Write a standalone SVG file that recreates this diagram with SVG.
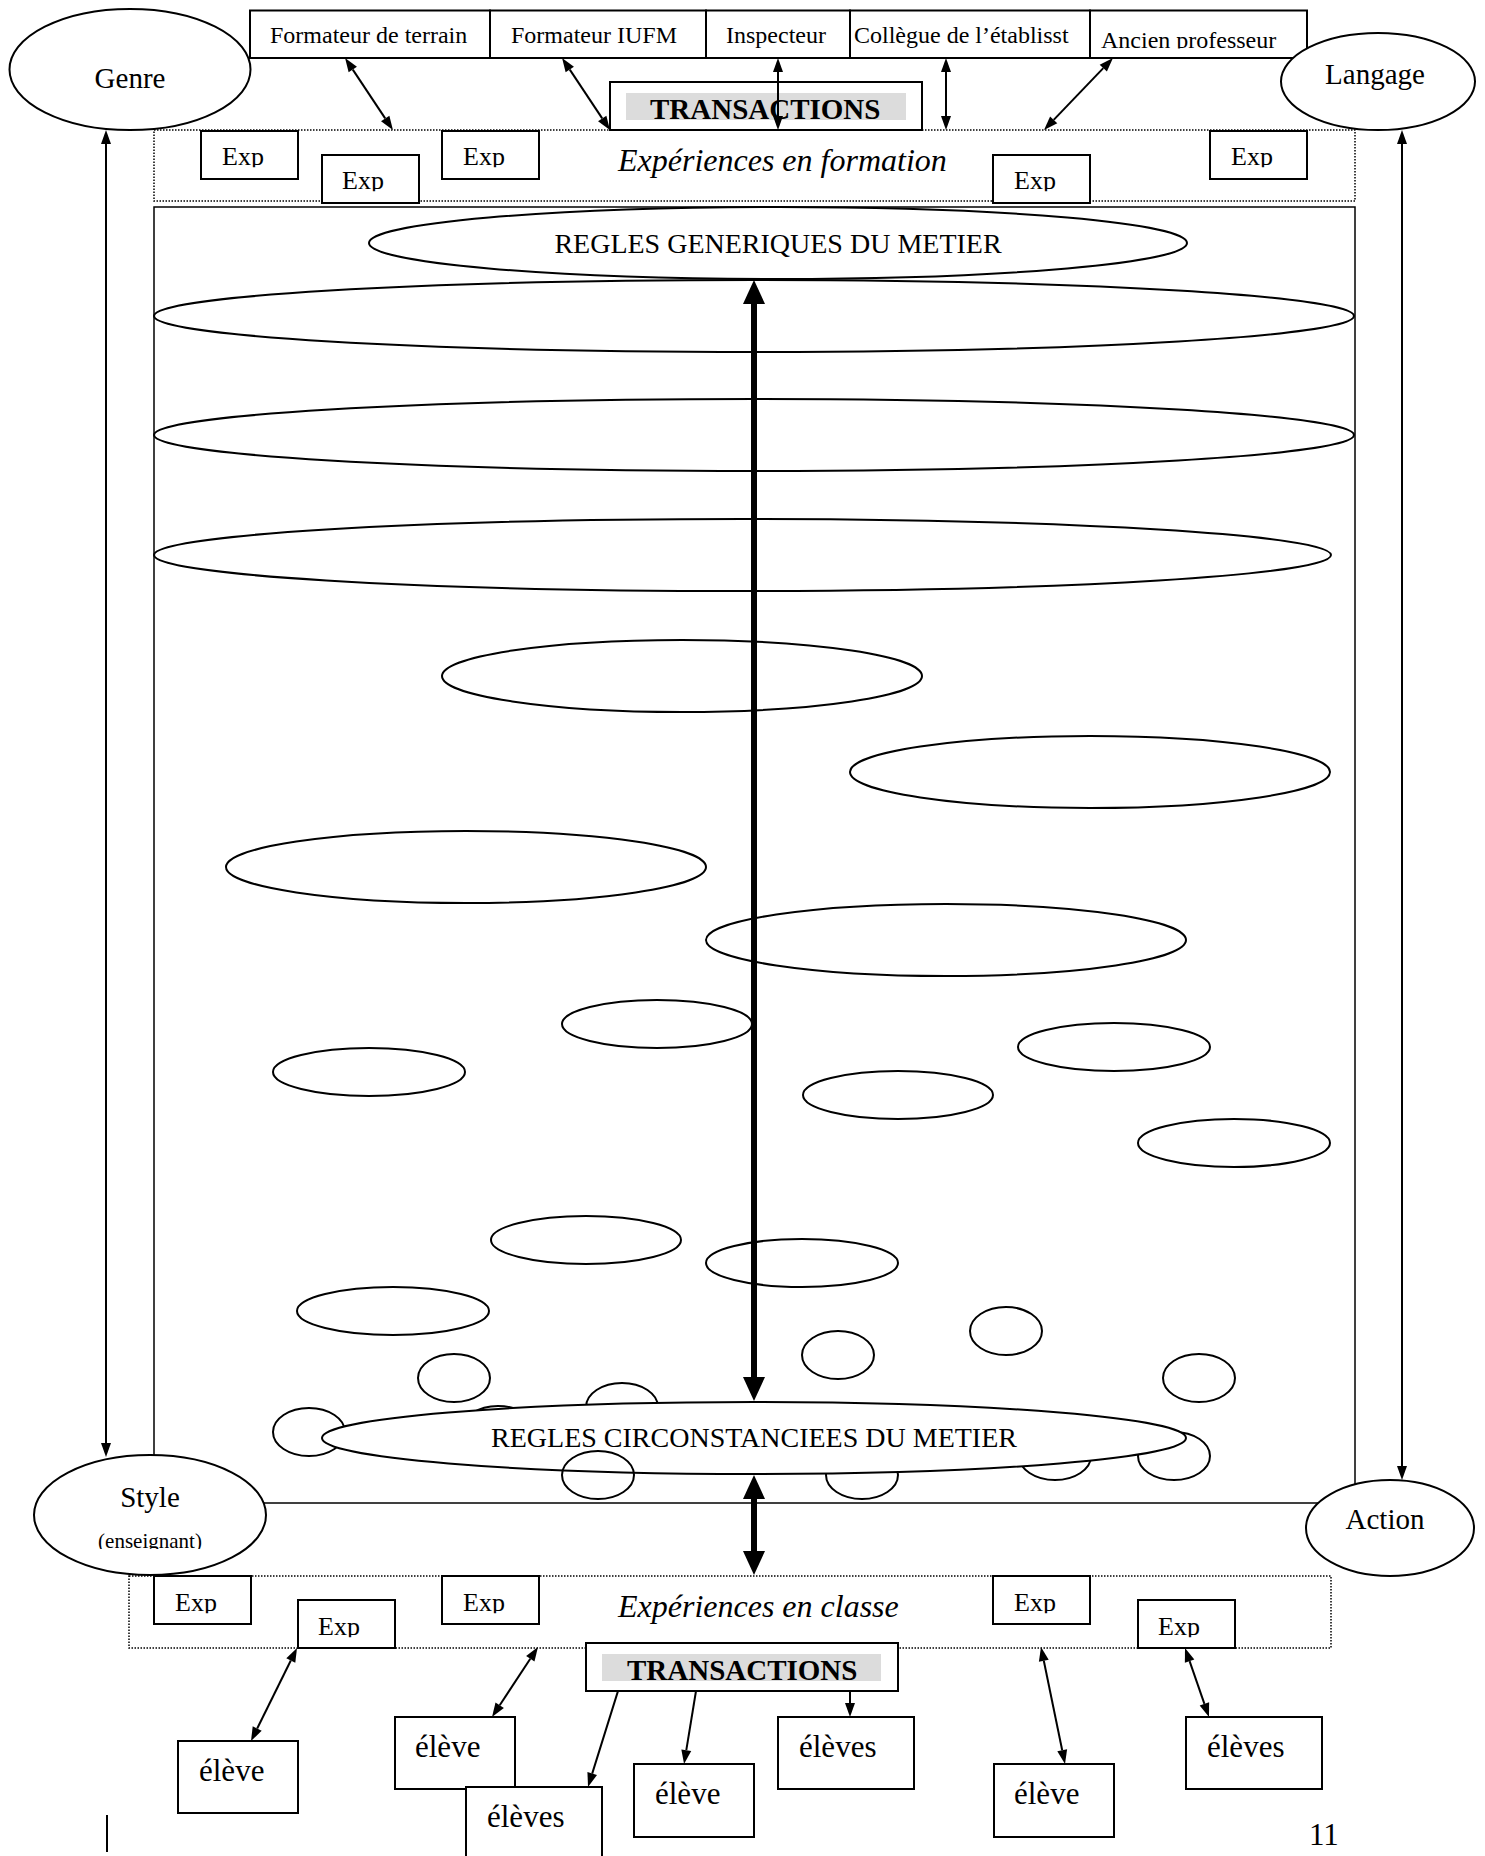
<svg xmlns="http://www.w3.org/2000/svg" width="1485" height="1856" viewBox="0 0 1485 1856">
<style>
.t{font-family:"Liberation Serif","Times New Roman",serif;fill:#000}
.bx{fill:#fff;stroke:#000;stroke-width:2}
.el{fill:#fff;stroke:#000;stroke-width:2}
.dot{fill:none;stroke:#000;stroke-width:1.5;stroke-dasharray:1.5 1.5}
.ln{stroke:#000;stroke-width:2;fill:none}
.thick{stroke:#000;stroke-width:6;fill:none}
.gray{fill:#dcdcdc}
.top{font-size:24px}
.exp{font-size:26px}
.el5{font-size:31px}
.it{font-size:32px;font-style:italic}
.tr{font-size:29px;font-weight:bold}
.rg{font-size:28px}
</style>
<defs>
<marker id="ah" markerUnits="userSpaceOnUse" markerWidth="14" markerHeight="10" refX="0" refY="5" orient="auto-start-reverse" overflow="visible">
<path d="M0,0 L14,5 L0,10 z" fill="#000"/>
</marker>
<marker id="ahT" markerUnits="userSpaceOnUse" markerWidth="24" markerHeight="22" refX="0" refY="11" orient="auto-start-reverse" overflow="visible">
<path d="M0,0 L24,11 L0,22 z" fill="#000"/>
</marker>
<clipPath id="cut" clipPathUnits="objectBoundingBox"><rect x="-0.1" y="0" width="1.2" height="0.87"/></clipPath>
<clipPath id="cut2" clipPathUnits="objectBoundingBox"><rect x="-0.1" y="0" width="1.2" height="0.83"/></clipPath>
</defs>
<rect width="1485" height="1856" fill="#fff"/>

<g id="frame"><rect x="154" y="207" width="1201" height="1296" fill="none" stroke="#000" stroke-width="1.5"/></g>

<g id="experiences-formation">
<rect class="dot" x="154" y="130" width="1201" height="71"/>
<text class="t it" x="618" y="171">Expériences en formation</text>
</g>
<g id="exp-f1"><rect class="bx" x="201" y="131" width="97" height="48"/><text class="t exp" x="222" y="165" clip-path="url(#cut)">Exp</text></g>
<g id="exp-f2"><rect class="bx" x="322" y="155" width="97" height="48"/><text class="t exp" x="342" y="189" clip-path="url(#cut)">Exp</text></g>
<g id="exp-f3"><rect class="bx" x="442" y="131" width="97" height="48"/><text class="t exp" x="463" y="165" clip-path="url(#cut)">Exp</text></g>
<g id="exp-f4"><rect class="bx" x="993" y="155" width="97" height="48"/><text class="t exp" x="1014" y="189" clip-path="url(#cut)">Exp</text></g>
<g id="exp-f5"><rect class="bx" x="1210" y="131" width="97" height="48"/><text class="t exp" x="1231" y="165" clip-path="url(#cut)">Exp</text></g>

<g id="formateur-terrain"><rect class="bx" x="250" y="10.5" width="240" height="47.5"/><text class="t top" x="270" y="43">Formateur de terrain</text></g>
<g id="formateur-iufm"><rect class="bx" x="490" y="10.5" width="216" height="47.5"/><text class="t top" x="511" y="43">Formateur IUFM</text></g>
<g id="inspecteur"><rect class="bx" x="706" y="10.5" width="144" height="47.5"/><text class="t top" x="726" y="43">Inspecteur</text></g>
<g id="collegue"><rect class="bx" x="850" y="10.5" width="240" height="47.5"/><text class="t top" x="854" y="43">Collègue de l’établisst</text></g>
<g id="ancien-professeur"><rect class="bx" x="1090" y="10.5" width="217" height="47.5"/><text class="t top" x="1101" y="48" clip-path="url(#cut2)">Ancien professeur</text></g>

<g id="transactions-top"><rect class="bx" x="610" y="82" width="312" height="48"/><rect class="gray" x="626" y="93" width="280" height="27"/><text class="t tr" x="650" y="119">TRANSACTIONS</text></g>

<g id="genre"><ellipse class="el" cx="130" cy="69.5" rx="120.5" ry="60.5"/><text class="t" font-size="29" x="130" y="88" text-anchor="middle">Genre</text></g>
<g id="langage"><ellipse class="el" cx="1378" cy="81.5" rx="97" ry="48.5"/><text class="t" font-size="29" x="1375" y="84" text-anchor="middle">Langage</text></g>

<g id="regles-generiques"><ellipse class="el" cx="778" cy="243" rx="409" ry="36"/><text class="t rg" x="778" y="253" text-anchor="middle">REGLES GENERIQUES DU METIER</text></g>
<g id="niveau-1"><ellipse class="el" cx="754" cy="316" rx="600" ry="36"/></g>
<g id="niveau-2"><ellipse class="el" cx="754" cy="435" rx="600" ry="36"/></g>
<g id="niveau-3"><ellipse class="el" cx="742.5" cy="555" rx="588.5" ry="36"/></g>
<g id="regle-d"><ellipse class="el" cx="682" cy="676" rx="240" ry="36"/></g>
<g id="regle-e"><ellipse class="el" cx="1090" cy="772" rx="240" ry="36"/></g>
<g id="regle-f"><ellipse class="el" cx="466" cy="867" rx="240" ry="36"/></g>
<g id="regle-g"><ellipse class="el" cx="946" cy="940" rx="240" ry="36"/></g>
<g id="regle-h"><ellipse class="el" cx="657" cy="1024" rx="95" ry="24"/></g>
<g id="regle-i"><ellipse class="el" cx="369" cy="1072" rx="96" ry="24"/></g>
<g id="regle-j"><ellipse class="el" cx="1114" cy="1047" rx="96" ry="24"/></g>
<g id="regle-k"><ellipse class="el" cx="898" cy="1095" rx="95" ry="24"/></g>
<g id="regle-l"><ellipse class="el" cx="1234" cy="1143" rx="96" ry="24"/></g>
<g id="regle-m"><ellipse class="el" cx="586" cy="1240" rx="95" ry="24"/></g>
<g id="regle-n"><ellipse class="el" cx="802" cy="1263" rx="96" ry="24"/></g>
<g id="regle-o"><ellipse class="el" cx="393" cy="1311" rx="96" ry="24"/></g>
<g id="cercle-p"><ellipse class="el" cx="454" cy="1378" rx="36" ry="24"/></g>
<g id="cercle-q"><ellipse class="el" cx="838" cy="1355" rx="36" ry="24"/></g>
<g id="cercle-r"><ellipse class="el" cx="1006" cy="1331" rx="36" ry="24"/></g>
<g id="cercle-s"><ellipse class="el" cx="1199" cy="1378" rx="36" ry="24"/></g>
<g id="cercle-u"><ellipse class="el" cx="309" cy="1432" rx="36" ry="24"/></g>
<g id="cercle-a"><ellipse class="el" cx="498" cy="1430" rx="36" ry="24"/></g>
<g id="cercle-t"><ellipse class="el" cx="622" cy="1407" rx="36" ry="24"/></g>
<g id="cercle-y"><ellipse class="el" cx="862" cy="1475" rx="36" ry="24"/></g>
<g id="cercle-w"><ellipse class="el" cx="1055" cy="1456" rx="36" ry="24"/></g>
<g id="cercle-x"><ellipse class="el" cx="1174" cy="1456" rx="36" ry="24"/></g>

<g id="regles-circonstanciees"><ellipse class="el" cx="754" cy="1438" rx="432" ry="36"/><text class="t rg" x="754" y="1447" text-anchor="middle">REGLES CIRCONSTANCIEES DU METIER</text></g>
<g id="cercle-v"><ellipse cx="598" cy="1475" rx="36" ry="24" fill="none" stroke="#000" stroke-width="2"/></g>

<g id="style"><ellipse class="el" cx="150" cy="1515" rx="116" ry="60"/><text class="t" font-size="29" x="150" y="1507" text-anchor="middle">Style</text><text class="t" font-size="21" x="150" y="1548" text-anchor="middle" clip-path="url(#cut2)">(enseignant)</text></g>
<g id="action"><ellipse class="el" cx="1390" cy="1528" rx="84" ry="48"/><text class="t" font-size="29" x="1385" y="1529" text-anchor="middle">Action</text></g>

<g id="experiences-classe">
<rect class="dot" x="129" y="1576" width="1202" height="72"/>
<text class="t it" x="618" y="1617">Expériences en classe</text>
</g>
<g id="exp-c1"><rect class="bx" x="154" y="1576" width="97" height="48"/><text class="t exp" x="175" y="1611" clip-path="url(#cut)">Exp</text></g>
<g id="exp-c2"><rect class="bx" x="298" y="1600" width="97" height="48"/><text class="t exp" x="318" y="1635" clip-path="url(#cut)">Exp</text></g>
<g id="exp-c3"><rect class="bx" x="442" y="1576" width="97" height="48"/><text class="t exp" x="463" y="1611" clip-path="url(#cut)">Exp</text></g>
<g id="exp-c4"><rect class="bx" x="993" y="1576" width="97" height="48"/><text class="t exp" x="1014" y="1611" clip-path="url(#cut)">Exp</text></g>
<g id="exp-c5"><rect class="bx" x="1138" y="1600" width="97" height="48"/><text class="t exp" x="1158" y="1635" clip-path="url(#cut)">Exp</text></g>

<g id="transactions-bottom"><rect class="bx" x="586" y="1643" width="312" height="48"/><rect class="gray" x="602" y="1654" width="279" height="27"/><text class="t tr" x="627" y="1680">TRANSACTIONS</text></g>

<g id="eleve-1"><rect class="bx" x="178" y="1741" width="120" height="72"/><text class="t el5" x="199" y="1781">élève</text></g>
<g id="eleve-2"><rect class="bx" x="395" y="1717" width="120" height="72"/><text class="t el5" x="415" y="1757">élève</text></g>
<g id="eleves-3"><rect class="bx" x="466" y="1787" width="136" height="75"/><text class="t el5" x="487" y="1827">élèves</text></g>
<g id="eleve-4"><rect class="bx" x="634" y="1764" width="120" height="73"/><text class="t el5" x="655" y="1804">élève</text></g>
<g id="eleves-5"><rect class="bx" x="778" y="1717" width="136" height="72"/><text class="t el5" x="799" y="1757">élèves</text></g>
<g id="eleve-6"><rect class="bx" x="994" y="1764" width="120" height="73"/><text class="t el5" x="1014" y="1804">élève</text></g>
<g id="eleves-7"><rect class="bx" x="1186" y="1717" width="136" height="72"/><text class="t el5" x="1207" y="1757">élèves</text></g>

<g id="connectors">
<line class="ln" x1="352.8" y1="69.6" x2="385.2" y2="118.4" marker-start="url(#ah)" marker-end="url(#ah)"/>
<line class="ln" x1="569.8" y1="69.6" x2="602.2" y2="118.4" marker-start="url(#ah)" marker-end="url(#ah)"/>
<line class="ln" x1="778" y1="72" x2="778" y2="116" marker-start="url(#ah)" marker-end="url(#ah)"/>
<line class="ln" x1="946" y1="72" x2="946" y2="116" marker-start="url(#ah)" marker-end="url(#ah)"/>
<line class="ln" x1="1103.3" y1="68.1" x2="1053.7" y2="119.9" marker-start="url(#ah)" marker-end="url(#ah)"/>
<line class="ln" x1="106" y1="144" x2="106" y2="1443" marker-start="url(#ah)" marker-end="url(#ah)"/>
<line class="ln" x1="1402" y1="144" x2="1402" y2="1466" marker-start="url(#ah)" marker-end="url(#ah)"/>
<line class="thick" x1="754" y1="304" x2="754" y2="1377" marker-start="url(#ahT)" marker-end="url(#ahT)"/>
<line class="thick" x1="754" y1="1499" x2="754" y2="1551" marker-start="url(#ahT)" marker-end="url(#ahT)"/>
<line class="ln" x1="290.8" y1="1660.5" x2="257.2" y2="1728.5" marker-start="url(#ah)" marker-end="url(#ah)"/>
<line class="ln" x1="530.3" y1="1658.7" x2="499.7" y2="1705.3" marker-start="url(#ah)" marker-end="url(#ah)"/>
<line class="ln" x1="618" y1="1691" x2="592.2" y2="1773.6" marker-end="url(#ah)"/>
<line class="ln" x1="696" y1="1691" x2="686.3" y2="1750.2" marker-end="url(#ah)"/>
<line class="ln" x1="850" y1="1691" x2="850" y2="1703" marker-end="url(#ah)"/>
<line class="ln" x1="1043.8" y1="1660.7" x2="1062.2" y2="1750.3" marker-start="url(#ah)" marker-end="url(#ah)"/>
<line class="ln" x1="1189.6" y1="1661.2" x2="1204.4" y2="1703.8" marker-start="url(#ah)" marker-end="url(#ah)"/>
</g>

<g id="page-number"><text class="t" font-size="31" x="1309" y="1845">11</text></g>
<line x1="107" y1="1815" x2="107" y2="1852" stroke="#000" stroke-width="2"/>
</svg>
